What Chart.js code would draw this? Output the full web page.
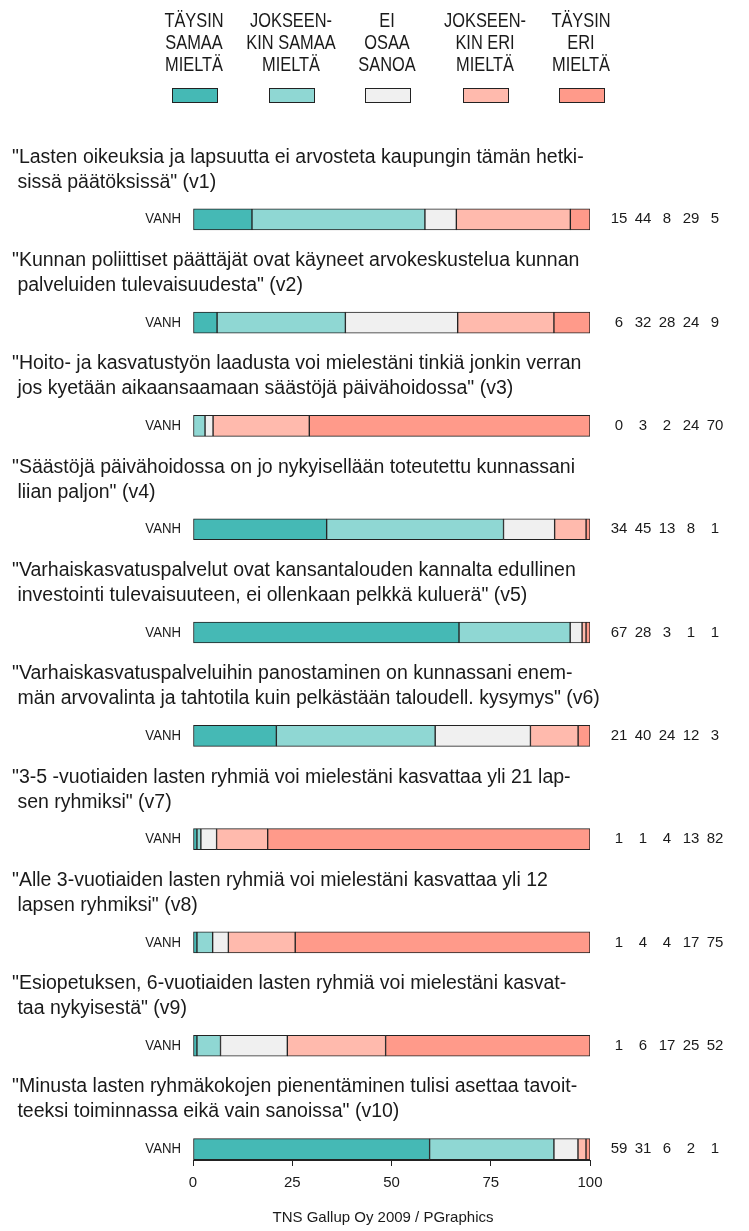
<!DOCTYPE html>
<html>
<head>
<meta charset="utf-8">
<script src="https://cdn.jsdelivr.net/npm/chart.js@4"></script>
<style>
  html, body { margin: 0; padding: 0; background: #fff; }
  canvas { display: block; }
</style>
</head>
<body>
<canvas id="chart" width="749" height="1231"></canvas>
<script>
// categories (legend), split in lines as in the original
const answerLabels = [
  ['TÄYSIN', 'SAMAA', 'MIELTÄ'],
  ['JOKSEEN-', 'KIN SAMAA', 'MIELTÄ'],
  ['EI', 'OSAA', 'SANOA'],
  ['JOKSEEN-', 'KIN ERI', 'MIELTÄ'],
  ['TÄYSIN', 'ERI', 'MIELTÄ']
];
const answerColors = ['#45b9b5', '#8fd7d3', '#f0f0f0', '#ffbaad', '#ff9a8a'];

const questions = [
  ['"Lasten oikeuksia ja lapsuutta ei arvosteta kaupungin tämän hetki-', ' sissä päätöksissä" (v1)'],
  ['"Kunnan poliittiset päättäjät ovat käyneet arvokeskustelua kunnan', ' palveluiden tulevaisuudesta" (v2)'],
  ['"Hoito- ja kasvatustyön laadusta voi mielestäni tinkiä jonkin verran', ' jos kyetään aikaansaamaan säästöjä päivähoidossa" (v3)'],
  ['"Säästöjä päivähoidossa on jo nykyisellään toteutettu kunnassani', ' liian paljon" (v4)'],
  ['"Varhaiskasvatuspalvelut ovat kansantalouden kannalta edullinen', ' investointi tulevaisuuteen, ei ollenkaan pelkkä kuluerä" (v5)'],
  ['"Varhaiskasvatuspalveluihin panostaminen on kunnassani enem-', ' män arvovalinta ja tahtotila kuin pelkästään taloudell. kysymys" (v6)'],
  ['"3-5 -vuotiaiden lasten ryhmiä voi mielestäni kasvattaa yli 21 lap-', ' sen ryhmiksi" (v7)'],
  ['"Alle 3-vuotiaiden lasten ryhmiä voi mielestäni kasvattaa yli 12', ' lapsen ryhmiksi" (v8)'],
  ['"Esiopetuksen, 6-vuotiaiden lasten ryhmiä voi mielestäni kasvat-', ' taa nykyisestä" (v9)'],
  ['"Minusta lasten ryhmäkokojen pienentäminen tulisi asettaa tavoit-', ' teeksi toiminnassa eikä vain sanoissa" (v10)']
];
const groupLabel = 'VANH';

// series values (%)
const taysinSamaa     = [15, 6, 0, 34, 67, 21, 1, 1, 1, 59];
const jokseenkinSamaa = [44, 32, 3, 45, 28, 40, 1, 4, 6, 31];
const eiOsaa          = [8, 28, 2, 13, 3, 24, 4, 4, 17, 6];
const jokseenkinEri   = [29, 24, 24, 8, 1, 12, 13, 17, 25, 2];
const taysinEri       = [5, 9, 70, 1, 1, 3, 82, 75, 52, 1];

const xTicks = [0, 25, 50, 75, 100];
const footer = 'TNS Gallup Oy 2009 / PGraphics';

const series = [taysinSamaa, jokseenkinSamaa, eiOsaa, jokseenkinEri, taysinEri];
const totals = questions.map((q, i) => series.reduce((s, arr) => s + arr[i], 0));

const FONT = '"Liberation Sans", Arial, sans-serif';
const INK = '#1a1a1a';

// condensed text (no narrow font installed)
function narrowText(ctx, text, x, y, align, squeeze) {
  ctx.save();
  ctx.translate(x, y);
  ctx.scale(squeeze, 1);
  ctx.textAlign = align;
  ctx.fillText(text, 0, 0);
  ctx.restore();
}

const textPlugin = {
  id: 'texts',
  afterDraw(chart) {
    const ctx = chart.ctx;
    const y = chart.scales.y;
    const area = chart.chartArea;
    ctx.save();
    ctx.fillStyle = INK;
    ctx.textBaseline = 'middle';

    // legend on top
    const legendX = [194, 291, 387, 485, 581];
    ctx.font = '20px ' + FONT;
    answerLabels.forEach((lines, k) => {
      lines.forEach((t, j) => narrowText(ctx, t, legendX[k], 21 + j * 22, 'center', 0.82));
      ctx.fillStyle = answerColors[k];
      ctx.fillRect(legendX[k] - 22, 88, 45, 14);
      ctx.strokeStyle = '#222';
      ctx.lineWidth = 1;
      ctx.strokeRect(legendX[k] - 22 + 0.5, 88.5, 45, 14);
      ctx.fillStyle = INK;
    });

    const valueX = [619, 643, 667, 691, 715];
    questions.forEach((lines, i) => {
      const cy = y.getPixelForValue(i);
      // question text
      ctx.font = '19.5px ' + FONT;
      ctx.textAlign = 'left';
      ctx.fillText(lines[0], 12, cy - 62);
      ctx.fillText(lines[1], 12, cy - 37);
      // row label
      ctx.font = '15px ' + FONT;
      narrowText(ctx, groupLabel, area.left - 12, cy, 'right', 0.88);
      // values
      ctx.textAlign = 'center';
      series.forEach((arr, k) => {
        ctx.fillText(String(arr[i]), valueX[k], cy);
      });
    });

    ctx.font = '15px ' + FONT;
    ctx.textAlign = 'center';
    ctx.fillText(footer, 383, 1218);
    ctx.restore();
  }
};

new Chart(document.getElementById('chart'), {
  type: 'bar',
  data: {
    datasets: series.map((arr, k) => ({
      label: answerLabels[k].join(' '),
      data: arr.map((v, i) => ({ x: v / totals[i] * 100, y: i })),
      backgroundColor: answerColors[k],
      borderColor: '#222',
      borderWidth: 1,
      borderSkipped: false,
      barThickness: 21
    }))
  },
  options: {
    indexAxis: 'y',
    responsive: false,
    animation: false,
    layout: { padding: { left: 193, right: 159, top: 116, bottom: 0 } },
    plugins: {
      legend: { display: false },
      tooltip: { enabled: false }
    },
    scales: {
      x: {
        type: 'linear',
        stacked: true,
        min: 0,
        max: 100,
        afterBuildTicks: s => { s.ticks = xTicks.map(v => ({ value: v })); },
        afterFit: s => { s.height = 71; },
        grid: { drawOnChartArea: false, drawTicks: true, tickLength: 6, color: '#222' },
        border: { display: true, color: '#222' },
        ticks: { padding: 8, color: INK, font: { family: FONT, size: 15 } }
      },
      y: {
        type: 'linear',
        stacked: true,
        reverse: true,
        offset: false,
        min: -1,
        max: 9.106,
        display: false
      }
    }
  },
  plugins: [textPlugin]
});
</script>
</body>
</html>
